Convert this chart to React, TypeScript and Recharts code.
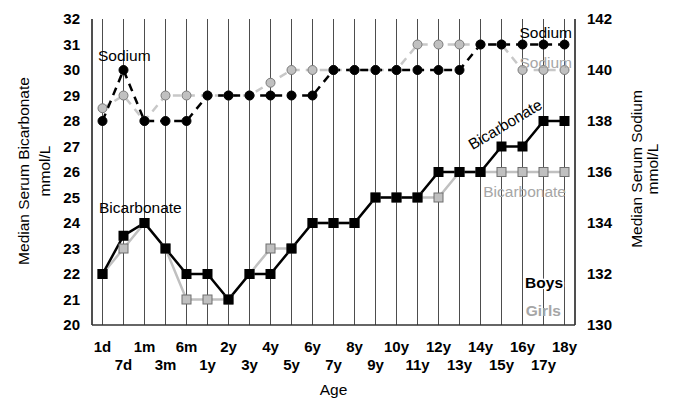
import React from 'react';
import { LineChart, Line, XAxis, YAxis, CartesianGrid, Label } from 'recharts';

const ages = ['1d', '7d', '1m', '3m', '6m', '1y', '2y', '3y', '4y', '5y', '6y', '7y', '8y', '9y', '10y', '11y', '12y', '13y', '14y', '15y', '16y', '17y', '18y'];
const boysBicarbonate = [22, 23.5, 24, 23, 22, 22, 21, 22, 22, 23, 24, 24, 24, 25, 25, 25, 26, 26, 26, 27, 27, 28, 28];
const girlsBicarbonate = [22, 23, 24, 23, 21, 21, 21, 22, 23, 23, 24, 24, 24, 25, 25, 25, 25, 26, 26, 26, 26, 26, 26];
const boysSodium = [138, 140, 138, 138, 138, 139, 139, 139, 139, 139, 139, 140, 140, 140, 140, 140, 140, 140, 141, 141, 141, 141, 141];
const girlsSodium = [138.5, 139, 138, 139, 139, 139, 139, 139, 139.5, 140, 140, 140, 140, 140, 140, 141, 141, 141, 141, 141, 140, 140, 140];
const leftTicks = [20, 21, 22, 23, 24, 25, 26, 27, 28, 29, 30, 31, 32];
const rightTicks = [130, 132, 134, 136, 138, 140, 142];

const data = ages.map((age, i) => ({
  age,
  boysBicarbonate: boysBicarbonate[i],
  girlsBicarbonate: girlsBicarbonate[i],
  boysSodium: boysSodium[i],
  girlsSodium: girlsSodium[i],
}));

const FONT = 'Liberation Sans, Arial, Helvetica, sans-serif';
const GRAY_TEXT = '#a6a6a6';

const AgeTick = (props: any) => {
  const { x, y, payload } = props;
  const idx = ages.indexOf(payload.value);
  const odd = idx % 2 === 1;
  return (
    <text x={x} y={y + (odd ? 45 : 26.5)} textAnchor="middle" fontFamily={FONT} fontWeight="bold" fontSize={15} fill="#000">
      {payload.value}
    </text>
  );
};

const BlackSquare = (props: any) => {
  const { cx, cy, index } = props;
  if (cx == null || cy == null) return <g key={`bs-${index}`} />;
  return <rect key={`bs-${index}`} x={cx - 5} y={cy - 5} width={10} height={10} fill="#000" />;
};

const GraySquare = (props: any) => {
  const { cx, cy, index } = props;
  if (cx == null || cy == null) return <g key={`gs-${index}`} />;
  return <rect key={`gs-${index}`} x={cx - 4.5} y={cy - 4.5} width={9} height={9} fill="#c0c0c0" stroke="#6f6f6f" strokeWidth={1} />;
};

const LeftTitle = (props: any) => (
  <g fontFamily={FONT} fontSize={15.5} fill="#000">
    <text transform="translate(29,171) rotate(-90)" textAnchor="middle">Median Serum Bicarbonate</text>
    <text transform="translate(50,171) rotate(-90)" textAnchor="middle">mmol/L</text>
  </g>
);

const RightTitle = (props: any) => (
  <g fontFamily={FONT} fontSize={15.5} fill="#000">
    <text transform="translate(641.5,169) rotate(-90)" textAnchor="middle">Median Serum Sodium</text>
    <text transform="translate(658,169) rotate(-90)" textAnchor="middle">mmol/L</text>
  </g>
);

const AgeTitle = (props: any) => {
  const vb = props.viewBox || { x: 92, width: 483 };
  return (
    <text x={vb.x + vb.width / 2} y={395} textAnchor="middle" fontFamily={FONT} fontSize={15.5} fill="#000">Age</text>
  );
};

export default function App() {
  return (
    <div style={{ position: 'absolute', left: 0, top: 0, width: 678, height: 410, background: '#fff' }}>
      <LineChart width={678} height={410} data={data} margin={{ top: 19, right: 0, bottom: 0, left: 0 }}>
        <CartesianGrid yAxisId="left" horizontal={false} vertical={true} stroke="#4d4d4d" strokeWidth={1} />
        <XAxis
          dataKey="age"
          interval={0}
          height={85}
          padding={{ left: 10.5, right: 10.5 }}
          tickLine={false}
          tickSize={0}
          tickMargin={0}
          axisLine={{ stroke: '#333', strokeWidth: 1.5 }}
          tick={<AgeTick />}
        >
          <Label content={<AgeTitle />} />
        </XAxis>
        <YAxis
          yAxisId="left"
          width={92}
          domain={[20, 32]}
          ticks={leftTicks}
          interval={0}
          tickLine={false}
          tickSize={0}
          tickMargin={12}
          axisLine={{ stroke: '#333', strokeWidth: 1.5 }}
          tick={{ fill: '#000', fontSize: 15, fontWeight: 'bold', fontFamily: FONT }}
        >
          <Label content={<LeftTitle />} />
        </YAxis>
        <YAxis
          yAxisId="right"
          orientation="right"
          width={103}
          domain={[130, 142]}
          ticks={rightTicks}
          interval={0}
          tickLine={false}
          tickSize={0}
          tickMargin={12}
          axisLine={{ stroke: '#333', strokeWidth: 1.5 }}
          tick={{ fill: '#000', fontSize: 15, fontWeight: 'bold', fontFamily: FONT }}
        >
          <Label content={<RightTitle />} />
        </YAxis>

        <Line yAxisId="left" type="linear" dataKey="girlsBicarbonate" stroke="#c0c0c0" strokeWidth={2.5} dot={GraySquare} activeDot={false} isAnimationActive={false} />
        <Line yAxisId="right" type="linear" dataKey="girlsSodium" stroke="#c8c8c8" strokeWidth={2.5} strokeDasharray="8 6"
          dot={{ r: 4.5, fill: '#c0c0c0', stroke: '#7a7a7a', strokeWidth: 1, strokeDasharray: '' }} activeDot={false} isAnimationActive={false} />
        <Line yAxisId="left" type="linear" dataKey="boysBicarbonate" stroke="#000" strokeWidth={2.5} dot={BlackSquare} activeDot={false} isAnimationActive={false} />
        <Line yAxisId="right" type="linear" dataKey="boysSodium" stroke="#000" strokeWidth={2.5} strokeDasharray="8 6"
          dot={{ r: 4.5, fill: '#000', stroke: '#000', strokeWidth: 1, strokeDasharray: '' }} activeDot={false} isAnimationActive={false} />
      </LineChart>
      <svg width={678} height={410} style={{ position: 'absolute', left: 0, top: 0, pointerEvents: 'none' }}>
        <g fontFamily={FONT} fontSize={15.5}>
          <text x={98} y={61} fill="#000">Sodium</text>
          <text x={99} y={213} fill="#000">Bicarbonate</text>
          <text x={0} y={0} fill="#000" textAnchor="middle" transform="translate(508,129) rotate(-31)">Bicarbonate</text>
          <text x={572} y={38} fill="#000" textAnchor="end">Sodium</text>
          <text x={572} y={68} fill={GRAY_TEXT} textAnchor="end">Sodium</text>
          <text x={566} y={197} fill={GRAY_TEXT} textAnchor="end">Bicarbonate</text>
          <text x={563} y={288} fill="#000" textAnchor="end" fontWeight="bold" stroke="#fff" strokeWidth={3} paintOrder="stroke">Boys</text>
          <text x={561} y={316} fill={GRAY_TEXT} textAnchor="end" fontWeight="bold">Girls</text>
        </g>
      </svg>
    </div>
  );
}
